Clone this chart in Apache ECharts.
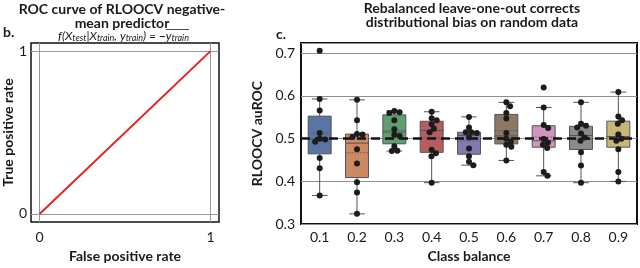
<!DOCTYPE html>
<html><head><meta charset="utf-8">
<script src="https://cdn.jsdelivr.net/npm/echarts@6/dist/echarts.min.js"></script>
<style>html,body{margin:0;padding:0;background:#fff}#c{width:640px;height:268px}</style>
</head><body><div id="c"></div>
<script>
// ---- Panel b: ROC curve ----
const rocFpr = [0, 1];
const rocTpr = [0, 1];
const rocTicks = [0, 1];

// ---- Panel c: RLOOCV auROC by class balance ----
const categories = ['0.1', '0.2', '0.3', '0.4', '0.5', '0.6', '0.7', '0.8', '0.9'];
const vals01 = [0.706, 0.593, 0.566, 0.513, 0.500, 0.498, 0.493, 0.455, 0.431, 0.367];
const vals02 = [0.591, 0.543, 0.511, 0.510, 0.504, 0.475, 0.442, 0.398, 0.374, 0.324];
const vals03 = [0.565, 0.562, 0.560, 0.543, 0.522, 0.509, 0.506, 0.482, 0.472, 0.471];
const vals04 = [0.563, 0.548, 0.543, 0.534, 0.523, 0.515, 0.474, 0.466, 0.459, 0.397];
const vals05 = [0.551, 0.526, 0.515, 0.515, 0.513, 0.503, 0.477, 0.459, 0.446, 0.438];
const vals06 = [0.585, 0.576, 0.560, 0.547, 0.513, 0.500, 0.493, 0.486, 0.481, 0.449];
const vals07 = [0.620, 0.573, 0.532, 0.525, 0.499, 0.491, 0.486, 0.478, 0.422, 0.413];
const vals08 = [0.585, 0.535, 0.530, 0.526, 0.512, 0.503, 0.495, 0.468, 0.437, 0.397];
const vals09 = [0.609, 0.552, 0.543, 0.535, 0.510, 0.500, 0.495, 0.475, 0.422, 0.400];
const yTickStep = 0.1;
const chanceLevel = 0.5;

const groups = [vals01, vals02, vals03, vals04, vals05, vals06, vals07, vals08, vals09];
const boxColors = ['#5975a4', '#cc8963', '#5f9e6e', '#b55d60', '#857aab', '#8d7866', '#d095bf', '#8c8c8c', '#c8b677'];

function quantile(sorted, p) {
  const pos = (sorted.length - 1) * p;
  const lo = Math.floor(pos), hi = Math.ceil(pos);
  return sorted[lo] + (sorted[hi] - sorted[lo]) * (pos - lo);
}
const boxData = groups.map((g, i) => {
  const s = g.slice().sort((a, b) => a - b);
  const q1 = quantile(s, 0.25), med = quantile(s, 0.5), q3 = quantile(s, 0.75);
  const iqr = q3 - q1;
  const low = Math.min(...s.filter(v => v >= q1 - 1.5 * iqr));
  const high = Math.max(...s.filter(v => v <= q3 + 1.5 * iqr));
  const mean = s.reduce((a, b) => a + b, 0) / s.length;
  return [i, low, q1, med, q3, high, mean];
});

// layout
const g2 = { left: 301, top: 43, width: 336, height: 192 };
const yMin = 0.3, yMax = 0.724;
const pxPerUnit = g2.height / (yMax - yMin);
const dotSize = 6;

// beeswarm offsets computed from the values
const swarmData = [];
groups.forEach((g, i) => {
  const s = g.slice().sort((a, b) => b - a);
  const placed = [];
  s.forEach(v => {
    const py = v * pxPerUnit;
    let best = 0;
    for (let k = 0; k < 400; k++) {
      const step = Math.ceil(k / 2) * 0.25 * (k % 2 ? 1 : -1);
      const ok = placed.every(p => Math.hypot(p[0] - step, p[1] - py) >= dotSize - 0.6);
      if (ok) { best = step; break; }
    }
    placed.push([best, py]);
    swarmData.push({ value: [i, v], symbolOffset: [best, 0] });
  });
});

const font = 'Lato, "Open Sans", sans-serif';
const txt = '#1a1a1a';

// formula text, measured with the library's own text element so an overline can sit on the mean y
const fIt = 'italic 12px ' + font, fSub = 'italic 9px ' + font;
const segs = [['i', 'f(X'], ['s', 'test'], ['i', '|X'], ['s', 'train'], ['i', ', y'], ['s', 'train'], ['i', ') = −'], ['i', 'y'], ['s', 'train']];
const fRich = {
  i: { font: fIt, fill: txt },
  s: { font: fSub, fill: txt, padding: [5, 0, 0, 0] }
};
const richStr = arr => arr.map(([k, t]) => '{' + k + '|' + t + '}').join('');
function measure(arr) {
  const el = new echarts.graphic.Text({ style: { text: richStr(arr), rich: fRich, align: 'left', verticalAlign: 'middle' } });
  return el.getBoundingRect().width;
}
const totalW = measure(segs);
const prefixW = measure(segs.slice(0, 7));
const fCenterX = 123.5, fY = 36;
const fX0 = fCenterX - totalW / 2;
const olStart = fX0 + prefixW;
const olEnd = fX0 + totalW;

const chart = echarts.init(document.getElementById('c'), null, { renderer: 'canvas' });
chart.setOption({
  animation: false,
  textStyle: { fontFamily: font },
  grid: [
    { left: 25, top: 43, width: 194, height: 190, show: true, borderColor: '#111', borderWidth: 1.5, backgroundColor: 'transparent' },
    { left: g2.left, top: g2.top, width: g2.width, height: g2.height, show: true, borderColor: '#111', borderWidth: 2, backgroundColor: 'transparent' }
  ],
  xAxis: [
    {
      gridIndex: 0, type: 'value', min: -0.05, max: 1.05,
      axisLine: { show: false }, axisTick: { show: false }, splitLine: { show: false },
      axisLabel: { customValues: rocTicks, color: txt, fontSize: 14, margin: 8, fontFamily: font },
      name: 'False positive rate', nameLocation: 'middle', nameGap: 19,
      nameTextStyle: { fontWeight: 'bold', fontSize: 14, color: txt, fontFamily: font }
    },
    {
      gridIndex: 1, type: 'category', data: categories, boundaryGap: true,
      axisLine: { show: false }, axisTick: { show: false }, splitLine: { show: false },
      axisLabel: { color: txt, fontSize: 14, margin: 6, fontFamily: font },
      name: 'Class balance', nameLocation: 'middle', nameGap: 19,
      nameTextStyle: { fontWeight: 'bold', fontSize: 14, color: txt, fontFamily: font }
    }
  ],
  yAxis: [
    {
      gridIndex: 0, type: 'value', min: -0.05, max: 1.05,
      axisLine: { show: false }, axisTick: { show: false }, splitLine: { show: false },
      axisLabel: { customValues: rocTicks, color: txt, fontSize: 14, margin: 4, fontFamily: font },
      name: 'True positive rate', nameLocation: 'middle', nameGap: 9,
      nameTextStyle: { fontWeight: 'bold', fontSize: 14, color: txt, fontFamily: font }
    },
    {
      gridIndex: 1, type: 'value', min: yMin, max: yMax, interval: yTickStep,
      axisLine: { show: false }, axisTick: { show: false },
      splitLine: { show: true, lineStyle: { color: '#8f8f8f', width: 1 } },
      axisLabel: { color: txt, fontSize: 14, margin: 6, showMaxLabel: false, fontFamily: font,
        formatter: v => v.toFixed(1) },
      name: 'RLOOCV auROC', nameLocation: 'middle', nameGap: 27,
      nameTextStyle: { fontWeight: 'bold', fontSize: 14, color: txt, fontFamily: font }
    }
  ],
  series: [
    {
      type: 'line', xAxisIndex: 0, yAxisIndex: 0, z: 3,
      data: rocFpr.map((x, i) => [x, rocTpr[i]]),
      symbol: 'none', lineStyle: { color: '#e8231f', width: 2 },
      markLine: {
        silent: true, symbol: 'none', label: { show: false }, z: 1,
        lineStyle: { color: '#999', width: 1, type: 'solid' },
        data: rocTicks.map(t => ({ xAxis: t })).concat(rocTicks.map(t => ({ yAxis: t })))
      }
    },
    {
      type: 'custom', xAxisIndex: 1, yAxisIndex: 1, z: 2,
      data: boxData,
      encode: { x: 0, y: [1, 2, 3, 4, 5] },
      renderItem: function (params, api) {
        const i = api.value(0);
        const c = v => api.coord([i, v]);
        const low = c(api.value(1)), q1 = c(api.value(2)), med = c(api.value(3)),
              q3 = c(api.value(4)), high = c(api.value(5)), mean = c(api.value(6));
        const band = api.size([1, 0])[0];
        const bw = band * 0.615, cw = bw * 0.68;
        const cx = low[0];
        const edge = { stroke: '#555', lineWidth: 1 };
        return {
          type: 'group', children: [
            { type: 'line', shape: { x1: cx, y1: high[1], x2: cx, y2: q3[1] }, style: edge },
            { type: 'line', shape: { x1: cx, y1: q1[1], x2: cx, y2: low[1] }, style: edge },
            { type: 'line', shape: { x1: cx - cw / 2, y1: high[1], x2: cx + cw / 2, y2: high[1] }, style: edge },
            { type: 'line', shape: { x1: cx - cw / 2, y1: low[1], x2: cx + cw / 2, y2: low[1] }, style: edge },
            { type: 'rect', shape: { x: cx - bw / 2, y: q3[1], width: bw, height: q1[1] - q3[1] },
              style: { fill: boxColors[i], stroke: '#555', lineWidth: 1 } },
            { type: 'line', shape: { x1: cx - bw / 2, y1: med[1], x2: cx + bw / 2, y2: med[1] }, style: edge },
            { type: 'line', shape: { x1: cx - bw / 2, y1: mean[1], x2: cx + bw / 2, y2: mean[1] },
              style: { stroke: '#555', lineWidth: 0.8, lineDash: [1.5, 1.5] } }
          ]
        };
      }
    },
    {
      type: 'line', xAxisIndex: 1, yAxisIndex: 1, z: 4, data: [], symbol: 'none',
      markLine: {
        silent: true, symbol: 'none', label: { show: false },
        lineStyle: { color: '#111', width: 2.5, type: [9, 5] },
        data: [{ yAxis: chanceLevel }]
      }
    },
    {
      type: 'scatter', xAxisIndex: 1, yAxisIndex: 1, z: 5,
      symbolSize: dotSize, itemStyle: { color: '#1c1c1c', opacity: 1 },
      data: swarmData
    }
  ],
  graphic: [
    { type: 'text', x: 122, y: 9, style: { text: 'ROC curve of RLOOCV negative-', font: 'bold 14px ' + font, fill: txt, align: 'center', verticalAlign: 'middle' } },
    { type: 'text', x: 122, y: 23, style: { text: 'mean predictor', font: 'bold 14px ' + font, fill: txt, align: 'center', verticalAlign: 'middle' } },
    { type: 'text', x: 3, y: 32, style: { text: 'b.', font: 'bold 14px ' + font, fill: txt, verticalAlign: 'middle' } },
    { type: 'text', x: fX0, y: fY, style: {
        text: richStr(segs), align: 'left', verticalAlign: 'middle', fill: txt, rich: fRich
      } },
    { type: 'line', shape: { x1: olStart, y1: fY - 6.5, x2: olEnd, y2: fY - 6.5 }, style: { stroke: txt, lineWidth: 0.8 } },
    { type: 'text', x: 472, y: 8, style: { text: 'Rebalanced leave-one-out corrects', font: 'bold 14px ' + font, fill: txt, align: 'center', verticalAlign: 'middle' } },
    { type: 'text', x: 472, y: 22, style: { text: 'distributional bias on random data', font: 'bold 14px ' + font, fill: txt, align: 'center', verticalAlign: 'middle' } },
    { type: 'text', x: 276, y: 34, style: { text: 'c.', font: 'bold 14px ' + font, fill: txt, verticalAlign: 'middle' } }
  ]
});
</script>
</body></html>
